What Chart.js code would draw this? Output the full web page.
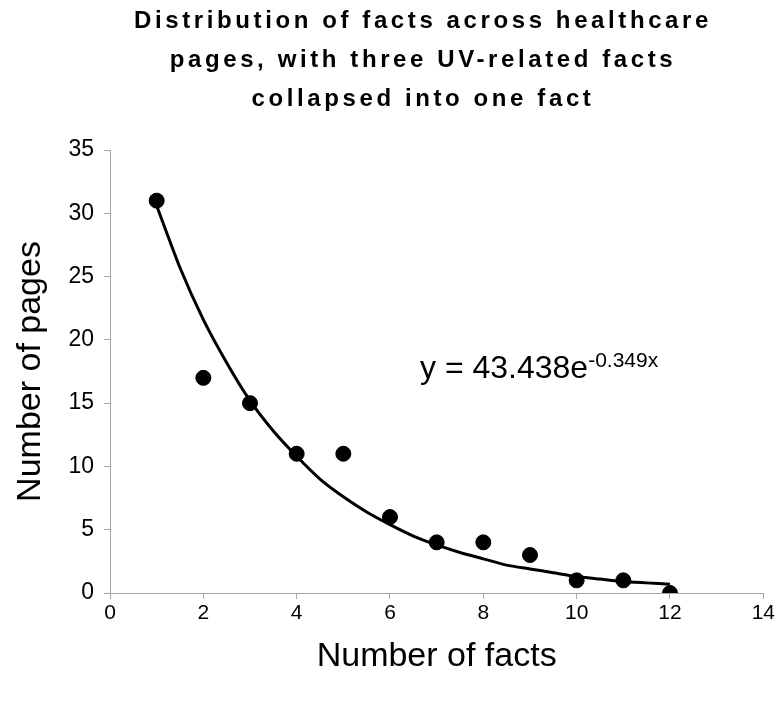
<!DOCTYPE html>
<html>
<head>
<meta charset="utf-8">
<script src="https://cdn.jsdelivr.net/npm/chart.js@4/dist/chart.umd.min.js"></script>
<style>
  html, body { margin: 0; padding: 0; background: #fff; }
  #wrap { width: 777px; height: 701px; }
</style>
</head>
<body>
<div id="wrap"><canvas id="chart" width="777" height="701"></canvas></div>
<script>
const titleLines = [
  'Distribution of facts across healthcare',
  'pages, with three UV-related facts',
  'collapsed into one fact',
]

// observed pages per number of facts
const factCounts = [1, 2, 3, 4, 5, 6, 7, 8, 9, 10, 11, 12]
const pageCounts = [31, 17, 15, 11, 11, 6, 4, 4, 3, 1, 1, 0]

// trendline
const trendX = [1, 1.5, 2, 2.5, 3, 3.5, 4, 4.5, 5, 5.5, 6, 6.5, 7, 7.5, 8, 8.5, 9, 9.5, 10, 10.5, 11, 11.5, 12]
const trendY = [30.6, 25.7, 21.6, 18.2, 15.2, 12.8, 10.8, 9.0, 7.6, 6.4, 5.4, 4.5, 3.8, 3.2, 2.7, 2.2, 1.9, 1.6, 1.3, 1.1, 0.9, 0.8, 0.7]

const xTicks = [0, 2, 4, 6, 8, 10, 12, 14]
const yTicks = [0, 5, 10, 15, 20, 25, 30, 35]

const axisGrey = '#a6a6a6'
const FONT = '"Liberation Sans", Arial, sans-serif'

const titlePlugin = {
  id: 'spacedTitle',
  afterDraw(chart) {
    const { ctx } = chart
    ctx.save()
    ctx.fillStyle = '#000'
    ctx.font = 'bold 24px ' + FONT
    ctx.letterSpacing = '3.6px'
    ctx.textAlign = 'center'
    ctx.textBaseline = 'middle'
    titleLines.forEach((line, i) => {
      ctx.fillText(line, 423, 21 + i * 39)
    })
    ctx.restore()
  },
}

const equationPlugin = {
  id: 'equation',
  afterDraw(chart) {
    const { ctx } = chart
    ctx.save()
    ctx.fillStyle = '#000'
    ctx.textBaseline = 'alphabetic'
    ctx.font = '32px ' + FONT
    const main = 'y = 43.438e'
    ctx.fillText(main, 420, 378)
    const w = ctx.measureText(main).width
    ctx.font = '21px ' + FONT
    ctx.fillText('-0.349x', 420 + w, 367)
    ctx.restore()
  },
}

const points = factCounts.map((x, i) => ({ x, y: pageCounts[i] }))
const trend = trendX.map((x, i) => ({ x, y: trendY[i] }))

new Chart(document.getElementById('chart').getContext('2d'), {
  type: 'scatter',
  data: {
    datasets: [
      {
        label: 'Pages',
        data: points,
        backgroundColor: '#000',
        borderColor: '#000',
        pointRadius: 7.5,
        pointHoverRadius: 7.5,
        order: 1,
      },
      {
        label: 'Trend',
        type: 'line',
        data: trend,
        borderColor: '#000',
        borderWidth: 3,
        pointRadius: 0,
        fill: false,
        tension: 0.2,
        order: 2,
      },
    ],
  },
  options: {
    responsive: false,
    animation: false,
    events: [],
    layout: { padding: { top: 150, right: 13, left: 0, bottom: 0 } },
    plugins: {
      legend: { display: false },
      title: { display: false },
      tooltip: { enabled: false },
    },
    scales: {
      x: {
        type: 'linear',
        min: 0,
        max: 14,
        afterBuildTicks(axis) { axis.ticks = xTicks.map(v => ({ value: v })) },
        afterFit(axis) { axis.height = 108 },
        grid: { drawOnChartArea: false, drawTicks: true, tickLength: 6, color: axisGrey },
        border: { color: axisGrey, width: 1 },
        ticks: { color: '#000', padding: 2, font: { family: FONT, size: 21 } },
        title: {
          display: true,
          text: 'Number of facts',
          color: '#000',
          font: { family: FONT, size: 34 },
          padding: { top: 0, bottom: 24 },
        },
      },
      y: {
        type: 'linear',
        min: 0,
        max: 35,
        afterBuildTicks(axis) { axis.ticks = yTicks.map(v => ({ value: v })) },
        afterFit(axis) { axis.width = 110 },
        grid: { drawOnChartArea: false, drawTicks: true, tickLength: 6, color: axisGrey },
        border: { color: axisGrey, width: 1 },
        ticks: { color: '#000', padding: 10, font: { family: FONT, size: 23 } },
        title: {
          display: true,
          text: 'Number of pages',
          color: '#000',
          font: { family: FONT, size: 34 },
          padding: { top: 10, bottom: 0 },
        },
      },
    },
  },
  plugins: [titlePlugin, equationPlugin],
})
</script>
</body>
</html>
